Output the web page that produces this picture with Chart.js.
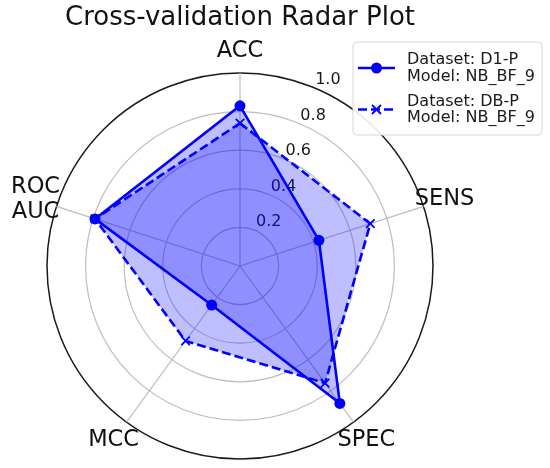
<!DOCTYPE html>
<html><head><meta charset="utf-8">
<script src="https://cdn.jsdelivr.net/npm/chart.js@4"></script>
<style>html,body{margin:0;padding:0;background:#fff}#wrap{width:550px;height:468px}</style>
</head><body><div id="wrap"><canvas id="c" width="550" height="468"></canvas></div>
<script>
const axisLabels = ['ACC', 'SENS', 'SPEC', 'MCC', ['ROC', 'AUC']];
const d1pValues = [0.83, 0.43, 0.88, 0.25, 0.79];
const dbpValues = [0.74, 0.71, 0.75, 0.48, 0.79];
const seriesNames = [['Dataset: D1-P', 'Model: NB_BF_9'], ['Dataset: DB-P', 'Model: NB_BF_9']];
const tickValues = [0.2, 0.4, 0.6, 0.8, 1.0];
const titleText = 'Cross-validation Radar Plot';

const FONT = "'DejaVu Sans', 'Liberation Sans', sans-serif";
const BLUE = '#0000ff';
const FILL = 'rgba(0,0,255,0.25)';

const textPlugin = {
  id: 'radarText',
  beforeDatasetsDraw(chart) {
    const s = chart.scales.r, ctx = chart.ctx;
    const a = 22.5 * Math.PI / 180;
    ctx.save();
    ctx.font = '16px ' + FONT;
    ctx.fillStyle = '#1a1a1a';
    ctx.textAlign = 'center';
    ctx.textBaseline = 'middle';
    tickValues.forEach(v => {
      const d = s.getDistanceFromCenterForValue(v);
      const x = s.xCenter + d * Math.sin(a) + 14;
      const y = s.yCenter - d * Math.cos(a) - 8;
      ctx.fillText(v.toFixed(1), x, y);
    });
    ctx.restore();
  },
  afterDraw(chart) {
    const s = chart.scales.r, ctx = chart.ctx;
    ctx.save();
    ctx.font = '22.5px ' + FONT;
    ctx.fillStyle = '#111';
    ctx.textAlign = 'center';
    ctx.textBaseline = 'middle';
    axisLabels.forEach((lab, i) => {
      const lines = Array.isArray(lab) ? lab : [lab];
      const p = s.getPointPosition(i, s.drawingArea + 22);
      const lh = 24.5;
      lines.forEach((t, k) => {
        ctx.fillText(t, p.x, p.y + (k - (lines.length - 1) / 2) * lh);
      });
    });
    const bx = 353, by = 42, bw = 189, bh = 93, r = 4;
    ctx.beginPath();
    ctx.moveTo(bx + r, by);
    ctx.arcTo(bx + bw, by, bx + bw, by + bh, r);
    ctx.arcTo(bx + bw, by + bh, bx, by + bh, r);
    ctx.arcTo(bx, by + bh, bx, by, r);
    ctx.arcTo(bx, by, bx + bw, by, r);
    ctx.closePath();
    ctx.fillStyle = 'rgba(255,255,255,0.9)';
    ctx.fill();
    ctx.strokeStyle = '#d6d6d6';
    ctx.lineWidth = 1;
    ctx.stroke();
    chart.data.datasets.forEach((ds, i) => {
      const baseY = 64 + i * 41.5;
      const ly = baseY + 4;
      ctx.save();
      ctx.strokeStyle = BLUE;
      ctx.lineWidth = 2.5;
      ctx.setLineDash(ds.borderDash || []);
      ctx.beginPath();
      ctx.moveTo(358, ly);
      ctx.lineTo(395, ly);
      ctx.stroke();
      ctx.setLineDash([]);
      if (ds.pointStyle === 'circle') {
        ctx.fillStyle = BLUE;
        ctx.beginPath();
        ctx.arc(376.5, ly, 5.5, 0, Math.PI * 2);
        ctx.fill();
      } else {
        ctx.lineWidth = 1.8;
        ctx.beginPath();
        ctx.moveTo(376.5 - 4.5, ly - 4.5); ctx.lineTo(376.5 + 4.5, ly + 4.5);
        ctx.moveTo(376.5 - 4.5, ly + 4.5); ctx.lineTo(376.5 + 4.5, ly - 4.5);
        ctx.stroke();
      }
      ctx.restore();
      ctx.font = '16px ' + FONT;
      ctx.fillStyle = '#1a1a1a';
      ctx.textAlign = 'left';
      ctx.textBaseline = 'alphabetic';
      seriesNames[i].forEach((t, k) => ctx.fillText(t, 407, baseY + k * 16.5));
    });
    ctx.restore();
  }
};

new Chart(document.getElementById('c'), {
  type: 'radar',
  data: {
    labels: axisLabels,
    datasets: [
      {
        label: seriesNames[0].join(' '),
        data: d1pValues,
        borderColor: BLUE,
        backgroundColor: FILL,
        borderWidth: 2.6,
        fill: 'origin',
        pointStyle: 'circle',
        pointRadius: 5.5,
        pointBackgroundColor: BLUE,
        pointBorderColor: BLUE,
        pointBorderWidth: 0
      },
      {
        label: seriesNames[1].join(' '),
        data: dbpValues,
        borderColor: BLUE,
        backgroundColor: FILL,
        borderWidth: 2.6,
        borderDash: [9, 4],
        fill: 'origin',
        pointStyle: 'crossRot',
        pointRadius: 6,
        pointBackgroundColor: BLUE,
        pointBorderColor: BLUE,
        pointBorderWidth: 1.8
      }
    ]
  },
  options: {
    responsive: false,
    animation: false,
    devicePixelRatio: 1,
    layout: { padding: { left: 46, right: 116, top: 0, bottom: 8 } },
    elements: { line: { tension: 0 } },
    plugins: {
      legend: { display: false },
      tooltip: { enabled: false },
      title: {
        display: true,
        text: titleText,
        color: '#111',
        font: { family: FONT, size: 26, weight: 'normal' },
        padding: { top: 3, bottom: 38 }
      }
    },
    scales: {
      r: {
        min: 0,
        max: 1,
        afterBuildTicks: (sc) => { sc.ticks = [0].concat(tickValues).map(v => ({ value: v })); },
        ticks: { display: false },
        pointLabels: { display: false },
        grid: {
          circular: true,
          color: (c) => (c.tick && c.tick.value >= 1) ? '#1a1a1a' : '#bdbdbd',
          lineWidth: (c) => (c.tick && c.tick.value >= 1) ? 1.5 : 1.2
        },
        angleLines: { color: '#bdbdbd', lineWidth: 1.2 }
      }
    }
  },
  plugins: [textPlugin]
});
</script>
</body></html>
